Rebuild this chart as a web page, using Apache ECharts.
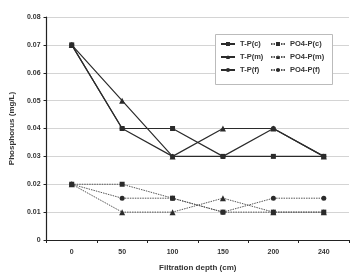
<!DOCTYPE html>
<html>
<head>
<meta charset="utf-8">
<script src="https://cdn.jsdelivr.net/npm/echarts@6/dist/echarts.min.js"></script>
<style>
  html, body { margin: 0; padding: 0; background: #fff; }
  #main { width: 350px; height: 277px; }
</style>
</head>
<body>
<div id="main"></div>
<script>
// filtration depth (cm)
var depths = ["0", "50", "100", "150", "200", "240"];

// phosphorus (mg/L)
var tpC = [0.07, 0.04, 0.04, 0.03, 0.03, 0.03];
var tpM = [0.07, 0.05, 0.03, 0.04, 0.04, 0.03];
var tpF = [0.07, 0.04, 0.03, 0.03, 0.04, 0.03];
var po4C = [0.02, 0.02, 0.015, 0.01, 0.01, 0.01];
var po4M = [0.02, 0.01, 0.01, 0.015, 0.01, 0.01];
var po4F = [0.02, 0.015, 0.015, 0.01, 0.015, 0.015];

var font = "Liberation Sans";
var ink = "#2b2b2b";

function makeLine(name, data, symbol, dotted) {
  return {
    name: name,
    type: "line",
    data: data,
    symbol: symbol,
    symbolSize: symbol === "triangle" ? 6 : 5,
    showSymbol: true,
    animation: false,
    itemStyle: { color: ink },
    lineStyle: {
      color: dotted ? "#555" : "#2b2b2b",
      width: dotted ? 1 : 1.2,
      type: dotted ? [1.5, 1] : "solid",
    },
    z: dotted ? 2 : 3,
  };
}

var legendText = { color: "#333", fontSize: 7.5, fontWeight: "bold", fontFamily: font };

var option = {
  animation: false,
  grid: { left: 37, right: 1, top: 17, bottom: 31 },
  graphic: [
    {
      type: "rect",
      left: 215,
      top: 34,
      shape: { width: 117, height: 50 },
      style: { fill: "#fff", stroke: "#bbb", lineWidth: 1 },
      z: 10,
    },
  ],
  legend: [
    {
      data: ["T-P(c)", "T-P(m)", "T-P(f)"],
      orient: "vertical",
      left: 220,
      top: 40,
      itemWidth: 14,
      itemHeight: 5,
      itemGap: 5,
      padding: 0,
      textStyle: legendText,
      z: 11,
    },
    {
      data: ["PO4-P(c)", "PO4-P(m)", "PO4-P(f)"],
      orient: "vertical",
      left: 270,
      top: 40,
      itemWidth: 14,
      itemHeight: 5,
      itemGap: 5,
      padding: 0,
      textStyle: legendText,
      z: 11,
    },
  ],
  xAxis: {
    type: "category",
    data: depths,
    boundaryGap: true,
    name: "Filtration depth (cm)",
    nameLocation: "middle",
    nameGap: 24,
    nameTextStyle: { color: "#333", fontSize: 8, fontWeight: "bold", fontFamily: font },
    axisLine: { lineStyle: { color: "#222", width: 1.2 } },
    axisTick: { show: true, length: 3, lineStyle: { color: "#222" } },
    axisLabel: { color: "#333", fontSize: 7, fontWeight: "bold", fontFamily: font, margin: 9 },
    splitLine: { show: false },
  },
  yAxis: {
    type: "value",
    min: 0,
    max: 0.08,
    interval: 0.01,
    name: "Phosphorus (mg/L)",
    nameLocation: "middle",
    nameGap: 30,
    nameTextStyle: { color: "#333", fontSize: 8, fontWeight: "bold", fontFamily: font },
    axisLine: { show: true, lineStyle: { color: "#222", width: 1.2 } },
    axisTick: { show: true, length: 3, lineStyle: { color: "#222" } },
    axisLabel: {
      color: "#333",
      fontSize: 7,
      fontWeight: "bold",
      fontFamily: font,
      margin: 6,
      formatter: function (v) {
        return v === 0 ? "0" : v.toFixed(2);
      },
    },
    splitLine: { show: true, lineStyle: { color: "#d4d4d4", width: 1 } },
  },
  series: [
    makeLine("T-P(c)", tpC, "rect", false),
    makeLine("T-P(m)", tpM, "triangle", false),
    makeLine("T-P(f)", tpF, "circle", false),
    makeLine("PO4-P(c)", po4C, "rect", true),
    makeLine("PO4-P(m)", po4M, "triangle", true),
    makeLine("PO4-P(f)", po4F, "circle", true),
  ],
};

var myChart = echarts.init(document.getElementById("main"), null, { renderer: "canvas" });
myChart.setOption(option);
</script>
</body>
</html>
